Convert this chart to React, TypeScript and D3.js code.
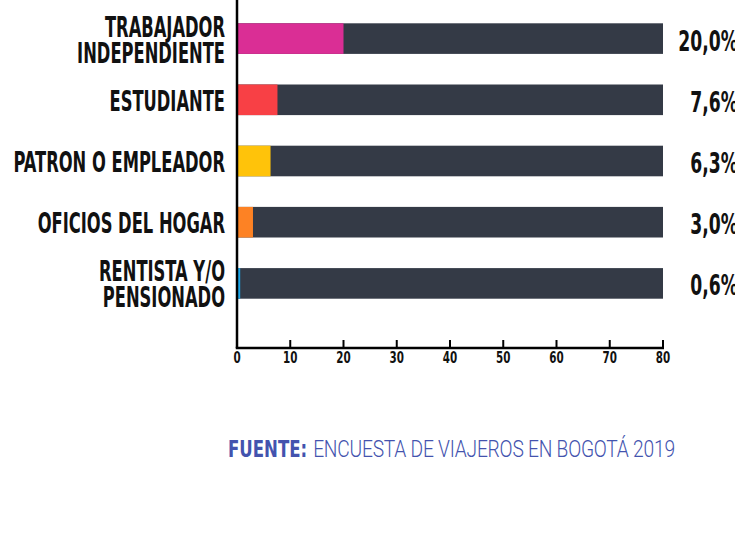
import React from "react";
import * as d3 from "d3";

const categories = [
  ["TRABAJADOR", "INDEPENDIENTE"],
  ["ESTUDIANTE"],
  ["PATRON O EMPLEADOR"],
  ["OFICIOS DEL HOGAR"],
  ["RENTISTA Y/O", "PENSIONADO"],
];
const values = [20.0, 7.6, 6.3, 3.0, 0.6];
const valueLabels = ["20,0%", "7,6%", "6,3%", "3,0%", "0,6%"];
const colors = ["#da2e95", "#f84045", "#ffc30a", "#fd8224", "#1ba7ea"];
const xTicks = [0, 10, 20, 30, 40, 50, 60, 70, 80];
const maxValue = 80;
const sourceBold = "FUENTE:";
const sourceText = " ENCUESTA DE VIAJEROS EN BOGOTÁ 2019";

const FONT = "'DejaVu Sans Condensed', 'DejaVu Sans', sans-serif";
const LIGHT = "Roboto, 'DejaVu Sans', sans-serif";

export default function App() {
  const W = 735, H = 555;
  const x0 = 237, x1 = 663, axisY = 348;
  const x = d3.scaleLinear().domain([0, maxValue]).range([x0, x1]);
  const keys = categories.map((c) => c.join(" "));
  const y = d3.scaleBand().domain(keys).range([8, 314]).paddingInner(0.5).paddingOuter(0.25);
  const bw = y.bandwidth();
  const SX = 0.66;

  return (
    <svg width={W} height={H} style={{ position: "absolute", left: 0, top: 0, background: "#fff" }}>
      {keys.map((k, i) => {
        const yy = y(k)!;
        const cy = yy + bw / 2;
        const lines = categories[i];
        const lh = 26;
        return (
          <g key={k}>
            <rect x={x(0)} y={yy} width={x(maxValue) - x(0)} height={bw} fill="#343a46" />
            <rect x={x(0)} y={yy} width={x(values[i]) - x(0)} height={bw} fill={colors[i]} />
            <text
              transform={`translate(225,${cy + 11}) scale(${SX},1)`}
              textAnchor="end"
              fontFamily={FONT}
              fontWeight="bold"
              fontSize={27.5}
              fill="#111"
            >
              {lines.map((ln, j) => (
                <tspan key={j} x={0} y={(j - (lines.length - 1) / 2) * lh}>
                  {ln}
                </tspan>
              ))}
            </text>
            <text
              transform={`translate(738,${cy + 12}) scale(${SX},1)`}
              textAnchor="end"
              fontFamily={FONT}
              fontWeight="bold"
              fontSize={29}
              fill="#111"
            >
              {valueLabels[i]}
            </text>
          </g>
        );
      })}
      <line x1={x0} x2={x0} y1={0} y2={axisY} stroke="#000" strokeWidth={2.5} />
      <line x1={x0 - 1.25} x2={x1 + 1} y1={axisY} y2={axisY} stroke="#000" strokeWidth={2.5} />
      {xTicks.map((t) => (
        <g key={t}>
          <line x1={x(t)} x2={x(t)} y1={axisY} y2={axisY - 8} stroke="#000" strokeWidth={2} />
          <text
            transform={`translate(${x(t)},${axisY + 14.5}) scale(0.72,1)`}
            textAnchor="middle"
            fontFamily={FONT}
            fontWeight="bold"
            fontSize={16}
            fill="#111"
          >
            {t}
          </text>
        </g>
      ))}
      <text
        transform={`translate(228,457) scale(0.8,1)`}
        fontFamily={LIGHT}
        fontSize={23}
        fill="#4353ae"
      >
        <tspan fontFamily={FONT} fontWeight="bold">{sourceBold}</tspan>
        <tspan fontWeight={300} fontSize={24} dx={2} textLength={458}>{sourceText}</tspan>
      </text>
    </svg>
  );
}
